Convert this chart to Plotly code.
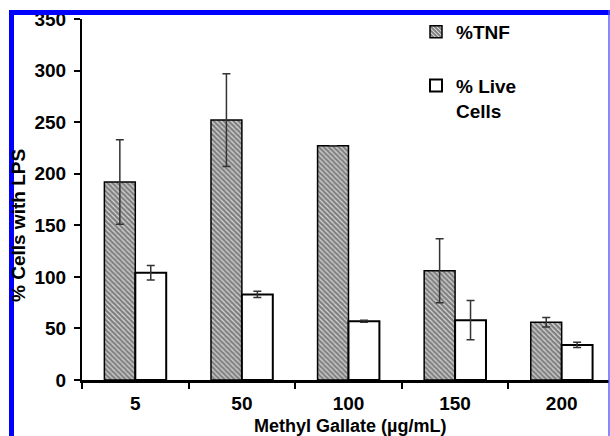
import plotly.graph_objects as go

categories = ["5", "50", "100", "150", "200"]
tnf = [192, 252, 227, 106, 56]
tnf_err = [41, 45, 0, 31, 4.5]
live = [104, 83, 57, 58, 34]
live_err = [7, 3, 1, 19, 2.5]

W, H = 610, 436
L, R, T, B = 82, 1, 19, 56
pw, ph = W - L - R, H - T - B

def px(x):
    return (x - L) / pw

def py(y):
    return (H - B - y) / ph

FONT = "Arial, Liberation Sans, sans-serif"
bold = dict(family=FONT, size=19, color="black", weight="bold")
bold18 = dict(family=FONT, size=18, color="black", weight="bold")

fig = go.Figure()
fig.add_trace(go.Bar(
    x=categories, y=tnf, name="%TNF", legendgroup="a",
    marker=dict(color="white", line=dict(color="black", width=1.5),
                pattern=dict(shape="\\", fgcolor="black", bgcolor="white", size=3.5, solidity=0.75)),
    error_y=dict(type="data", array=tnf_err, color="#333333", thickness=1.5, width=4),
))
fig.add_trace(go.Bar(
    x=categories, y=live, name="% Live<br>Cells", legendgroup="b",
    marker=dict(color="white", line=dict(color="black", width=2)),
    error_y=dict(type="data", array=live_err, color="#333333", thickness=1.5, width=4),
))

fig.update_layout(
    width=W, height=H,
    margin=dict(l=L, r=R, t=T, b=B, autoexpand=False),
    paper_bgcolor="white", plot_bgcolor="white",
    barmode="group", bargap=0.42, bargroupgap=0,
    font=bold,
    showlegend=True,
    legend=dict(x=px(416), y=py(13), xanchor="left", yanchor="top",
                bgcolor="rgba(0,0,0,0)", traceorder="grouped", tracegroupgap=26,
                valign="top", font=bold),
    xaxis=dict(type="category", range=[-0.5, 4.444], showline=True, linecolor="black",
               linewidth=2.5, ticks="outside", tickson="boundaries", ticklen=6,
               tickwidth=2, tickcolor="black", tickfont=bold, showgrid=False,
               ticklabelstandoff=4),
    yaxis=dict(range=[0, 350], dtick=50, showline=True, linecolor="black", linewidth=2,
               ticks="outside", ticklen=6, tickwidth=2, tickcolor="black",
               ticklabelstandoff=4,
               tickfont=bold, showgrid=False, zeroline=False),
    annotations=[
        dict(text="% Cells with LPS", textangle=-90, xref="paper", yref="paper",
             x=px(18), y=py(226), showarrow=False, font=bold,
             xanchor="center", yanchor="middle"),
        dict(text="Methyl Gallate (µg/mL)", xref="paper", yref="paper",
             x=px(350), y=py(425.5), showarrow=False, font=bold18,
             xanchor="center", yanchor="middle"),
    ],
    shapes=[
        dict(type="rect", xref="paper", yref="paper", x0=px(9), x1=px(14), y0=py(440), y1=py(10),
             fillcolor="#0000ff", line=dict(width=0), layer="above"),
        dict(type="rect", xref="paper", yref="paper", x0=px(9), x1=px(610), y0=py(15), y1=py(10),
             fillcolor="#0000ff", line=dict(width=0), layer="above"),
        dict(type="rect", xref="paper", yref="paper", x0=px(608.3), x1=px(609.7), y0=py(440), y1=py(10),
             fillcolor="#5555ff", line=dict(width=0), layer="above"),
    ],
)

fig.write_html("out.html")
